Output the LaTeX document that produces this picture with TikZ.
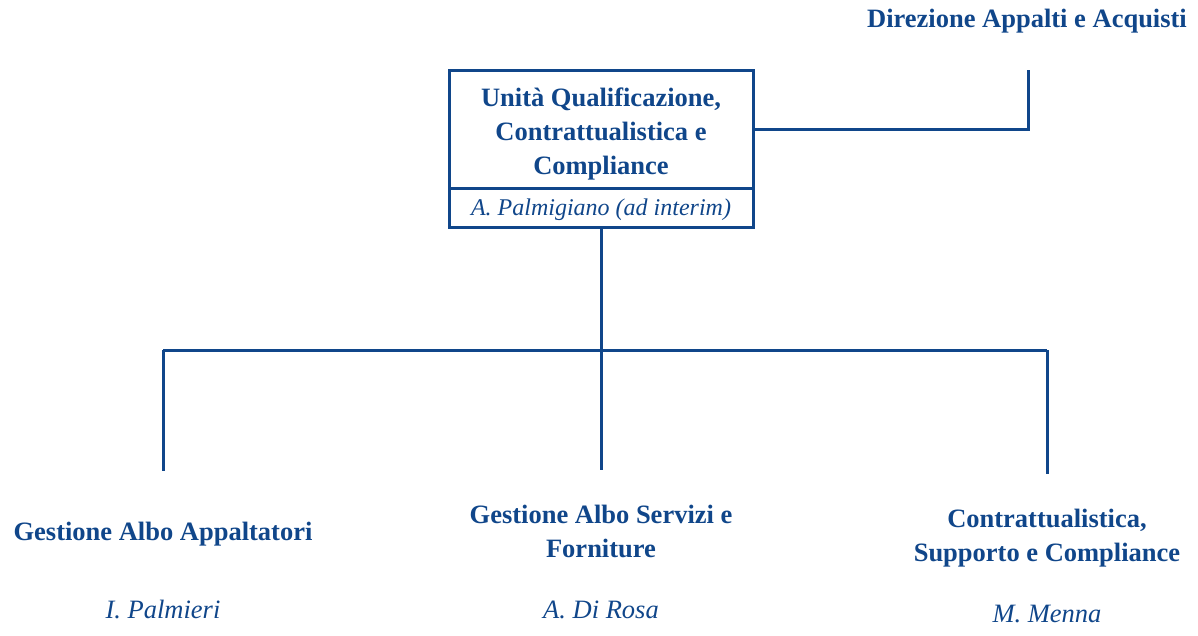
\documentclass[tikz,border=0pt]{standalone}
\usepackage{fontspec}
\setmainfont{Liberation Serif}
\definecolor{orgblue}{RGB}{16,70,138}
\begin{document}
\begin{tikzpicture}[x=1pt,y=-1pt,
  line/.style={draw=orgblue,line width=3pt},
  unitbox/.style={draw=orgblue,line width=3pt,rectangle,inner sep=0pt,outer sep=0pt,minimum width=304pt},
  bold/.style={text=orgblue,font=\fontsize{26.5}{34}\selectfont\bfseries,align=center,inner sep=0pt,anchor=base},
  ital/.style={text=orgblue,font=\fontsize{24}{28}\selectfont\itshape,align=center,inner sep=0pt,anchor=base},
  persname/.style={text=orgblue,font=\fontsize{26.5}{30}\selectfont\itshape,align=center,inner sep=0pt,anchor=base}]
\useasboundingbox (0,0) rectangle (1198,635);
% top unit
\node[unitbox,minimum height=118pt] (top) at (601,129) {};
\node[unitbox,minimum height=39pt] (bot) at (601,207.5) {};
\node[bold] (toptxt) at (601,174) {Unità Qualificazione,\\Contrattualistica e\\Compliance};
\node[ital] (botxt) at (601,215) {A. Palmigiano (ad interim)};
% direction
\node[bold] (dir) at (1027,27) {Direzione Appalti e Acquisti};
\coordinate (dirline) at (1028,70);
\draw[line] (top.east) -| (dirline);
% tree
\coordinate (hub) at (601,350);
\coordinate (L) at (163,350);
\coordinate (R) at (1047,350);
\coordinate (Lend) at (163,471);
\coordinate (Mend) at (601,470);
\coordinate (Rend) at (1047,474);
\draw[line] (bot.south) -- (hub);
\draw[line] (L) -- (R);
\draw[line] (L) -- (Lend);
\draw[line] (hub) -- (Mend);
\draw[line] (R) -- (Rend);
% children
\node[bold] (c1) at (163,540) {Gestione Albo Appaltatori};
\node[persname] (p1) at (163,618) {I. Palmieri};
\node[bold] (c2) at (601,557) {Gestione Albo Servizi e\\Forniture};
\node[persname] (p2) at (601,618) {A. Di Rosa};
\node[bold] (c3) at (1047,561) {Contrattualistica,\\Supporto e Compliance};
\node[persname] (p3) at (1047,622) {M. Menna};
\end{tikzpicture}
\end{document}
